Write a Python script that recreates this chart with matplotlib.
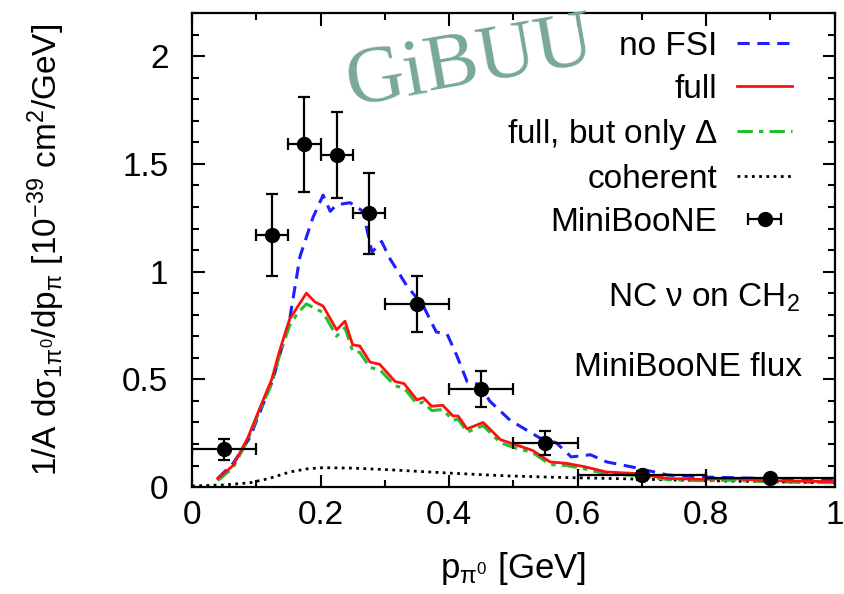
import matplotlib.pyplot as plt
from matplotlib.ticker import MultipleLocator, FormatStrFormatter
from matplotlib.legend_handler import HandlerErrorbar
from matplotlib.container import ErrorbarContainer

plt.rcParams['font.family'] = ['Liberation Sans', 'DejaVu Sans']
plt.rcParams['mathtext.fontset'] = 'custom'
plt.rcParams['mathtext.rm'] = 'Liberation Sans'
plt.rcParams['mathtext.it'] = 'Liberation Sans'
plt.rcParams['mathtext.default'] = 'regular'

### Data ###
# no FSI (blue dashed)
p_nofsi = [0.04, 0.064, 0.09, 0.126, 0.152, 0.168, 0.188, 0.204, 0.215, 0.225,
           0.246, 0.266, 0.28, 0.295, 0.308, 0.334, 0.36, 0.38, 0.397, 0.412,
           0.428, 0.448, 0.463, 0.495, 0.54, 0.567, 0.59, 0.62, 0.645, 0.69,
           0.74, 0.79, 0.89, 1.0]
s_nofsi = [0.04, 0.11, 0.23, 0.50, 0.78, 1.07, 1.25, 1.355, 1.28, 1.31,
           1.32, 1.28, 1.09, 1.14, 1.06, 0.935, 0.84, 0.72, 0.71, 0.61,
           0.49, 0.475, 0.40, 0.31, 0.23, 0.205, 0.14, 0.15, 0.117, 0.09,
           0.056, 0.047, 0.04, 0.03]

# full (red solid)
p_full = [0.04, 0.064, 0.087, 0.106, 0.124, 0.137, 0.152, 0.165, 0.178, 0.191,
          0.204, 0.225, 0.238, 0.25, 0.261, 0.277, 0.292, 0.316, 0.33, 0.35,
          0.36, 0.373, 0.39, 0.406, 0.414, 0.428, 0.453, 0.48, 0.505, 0.53,
          0.557, 0.583, 0.61, 0.645, 0.69, 0.74, 0.79, 0.84, 0.89, 1.0]
s_full = [0.04, 0.10, 0.23, 0.37, 0.50, 0.64, 0.78, 0.84, 0.90, 0.86,
          0.84, 0.73, 0.77, 0.66, 0.655, 0.58, 0.57, 0.49, 0.48, 0.405,
          0.415, 0.375, 0.38, 0.33, 0.33, 0.27, 0.30, 0.22, 0.195, 0.17,
          0.117, 0.11, 0.095, 0.07, 0.063, 0.04, 0.036, 0.04, 0.03, 0.025]

# full, but only Delta (green dash-dot)
p_delta = [0.04, 0.064, 0.087, 0.106, 0.124, 0.137, 0.152, 0.165, 0.178, 0.191,
           0.204, 0.225, 0.238, 0.25, 0.261, 0.277, 0.292, 0.316, 0.33, 0.35,
           0.36, 0.373, 0.39, 0.406, 0.414, 0.428, 0.453, 0.48, 0.505, 0.53,
           0.557, 0.583, 0.61, 0.645, 0.69, 0.74, 0.79, 0.84, 0.89, 1.0]
s_delta = [0.03, 0.09, 0.22, 0.36, 0.48, 0.62, 0.75, 0.81, 0.85, 0.83,
           0.81, 0.70, 0.74, 0.63, 0.625, 0.555, 0.545, 0.47, 0.46, 0.385,
           0.395, 0.355, 0.36, 0.31, 0.315, 0.255, 0.285, 0.205, 0.18, 0.16,
           0.105, 0.10, 0.085, 0.06, 0.055, 0.035, 0.03, 0.032, 0.025, 0.02]

# coherent (black dotted)
p_coh = [0.0, 0.05, 0.09, 0.12, 0.152, 0.18, 0.204, 0.25, 0.31, 0.4,
         0.49, 0.57, 0.65, 0.75, 0.85, 1.0]
s_coh = [0.005, 0.01, 0.02, 0.04, 0.07, 0.085, 0.09, 0.088, 0.08, 0.065,
         0.052, 0.045, 0.04, 0.033, 0.027, 0.02]

# MiniBooNE data
p_data = [0.05, 0.125, 0.175, 0.225, 0.275, 0.35, 0.45, 0.55, 0.7, 0.9]
p_err = [0.05, 0.025, 0.025, 0.025, 0.025, 0.05, 0.05, 0.05, 0.1, 0.1]
s_data = [0.175, 1.17, 1.59, 1.54, 1.27, 0.85, 0.455, 0.205, 0.055, 0.04]
s_err = [0.05, 0.19, 0.22, 0.2, 0.19, 0.13, 0.085, 0.055, 0.02, 0.012]

### Plotting ###
fs = 24
fig = plt.figure(figsize=(8.44, 5.94), dpi=100)
ax = fig.add_axes([0.2275, 0.18, 0.7615, 0.798])

ax.plot(p_coh, s_coh, color='black', linestyle=(0, (1.0, 1.6)), lw=2, label='coherent')
ax.plot(p_nofsi, s_nofsi, color='#1f1fff', linestyle=(0, (4, 2.5)), lw=2.2, label='no FSI')
ax.plot(p_delta, s_delta, color='#22c02e', linestyle=(0, (5, 2, 1.5, 2)), lw=2.2, label=r'full, but only $\Delta$')
ax.plot(p_full, s_full, color='#ff1010', lw=2, label='full')
ax.errorbar(p_data, s_data, xerr=p_err, yerr=s_err, fmt='o', color='black',
            markersize=10, elinewidth=1.6, capsize=4, capthick=1.6, label='MiniBooNE')

ax.set_xlim(0, 1)
ax.set_ylim(0, 2.2)
ax.xaxis.set_major_locator(MultipleLocator(0.2))
ax.xaxis.set_minor_locator(MultipleLocator(0.1))
ax.yaxis.set_major_locator(MultipleLocator(0.5))
ax.yaxis.set_minor_locator(MultipleLocator(0.1))
ax.xaxis.set_major_formatter(FormatStrFormatter('%g'))
ax.yaxis.set_major_formatter(FormatStrFormatter('%g'))
ax.tick_params(which='both', direction='in', top=True, right=True, labelsize=fs, width=1.5)
ax.tick_params(which='major', length=9)
ax.tick_params(which='minor', length=5)
ax.tick_params(axis='x', which='major', pad=9)
ax.tick_params(axis='y', which='major', pad=17)
for sp in ax.spines.values():
    sp.set_linewidth(1.6)

ax.set_xlabel(r'p$_{\pi^0}$ [GeV]', fontsize=25, labelpad=14)
ax.set_ylabel(r'1/A d$\sigma_{1\pi^0}$/dp$_\pi$ [10$^{-39}$ cm$^2$/GeV]', fontsize=24, labelpad=40)

handles, labels = ax.get_legend_handles_labels()
order = ['no FSI', 'full', r'full, but only $\Delta$', 'coherent', 'MiniBooNE']
hmap = dict(zip(labels, handles))
ax.legend([hmap[k] for k in order], order, loc='upper right', bbox_to_anchor=(0.934, 0.962),
          frameon=False, markerfirst=False, fontsize=fs, handlelength=1.65,
          labelspacing=0.36, handletextpad=0.6, borderpad=0, borderaxespad=0,
          handler_map={ErrorbarContainer: HandlerErrorbar(yerr_size=0)})

ax.text(0.946, 0.40, r'NC $\nu$ on CH$_2$', transform=ax.transAxes, ha='right', va='center', fontsize=fs)
ax.text(0.949, 0.253, 'MiniBooNE flux', transform=ax.transAxes, ha='right', va='center', fontsize=fs)

fig.text(0.558, 0.893, 'GiBUU', fontsize=58, family='Liberation Serif', color='#78a898',
         rotation=10, ha='center', va='center', zorder=10)

fig.savefig('out.png', dpi=100)
